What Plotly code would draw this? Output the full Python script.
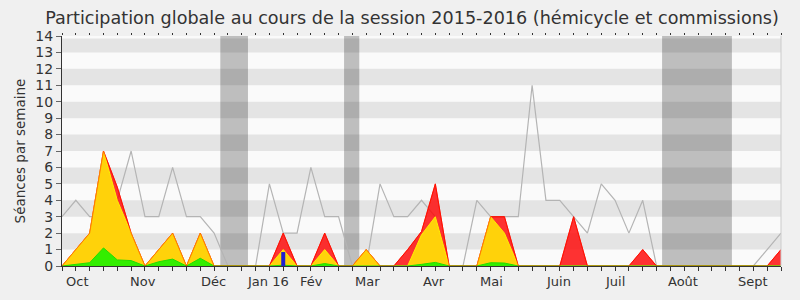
import plotly.graph_objects as go

# ---------------- data ----------------
weeks = list(range(53))

# gray line: séances (hémicycle) per week
gray = [3, 4, 3, 3, 4, 7, 3, 3, 6, 3, 3, 2, 0, 0, 0, 5, 2, 2, 6, 3, 3, 0, 0, 5, 3, 3,
        4, 3, 0, 0, 4, 3, 3, 3, 11, 4, 4, 3, 2, 5, 4, 2, 4, 0, 0, 0, 0, 0, 0, 0, 0, 1, 2]
# red area (top layer)
red = [0, 1, 2, 7, 4.8, 2, 0, 1, 2, 0, 2, 0, 0, 0, 0, 0, 2, 0, 0, 2, 0, 0, 1, 0, 0, 1,
       2.1, 5, 0, 0, 0, 3, 3, 0, 0, 0, 0, 3, 0, 0, 0, 0, 1, 0, 0, 0, 0, 0, 0, 0, 0, 0, 1]
# yellow area
yellow = [0, 1, 2, 7, 4, 2, 0, 1, 2, 0, 2, 0, 0, 0, 0, 0, 1, 0, 0, 1, 0, 0, 1, 0, 0, 0,
          1.9, 3, 0, 0, 0, 3, 2, 0, 0, 0, 0, 0, 0, 0, 0, 0, 0, 0, 0, 0, 0, 0, 0, 0, 0, 0, 0]
# green area
green = [0, 0.08, 0.2, 1.1, 0.37, 0.33, 0, 0.26, 0.42, 0, 0.47, 0, 0, 0, 0, 0, 0.05, 0, 0,
         0.15, 0, 0, 0.03, 0, 0, 0, 0.1, 0.22, 0, 0, 0, 0.2, 0.18, 0, 0, 0, 0, 0, 0, 0, 0,
         0, 0, 0, 0, 0, 0, 0, 0, 0, 0, 0, 0]
# blue bar
blue = [0] * 53
blue[16] = 0.85

month_labels = ["Oct", "Nov", "Déc", "Jan 16", "Fév", "Mar", "Avr", "Mai", "Juin",
                "Juil", "Août", "Sept"]
month_pos = [1.06, 5.88, 10.94, 14.9, 18.08, 22.1, 26.9, 31.07, 35.9, 39.96, 44.9, 49.95]

vacations = [(11.45, 13.45), (20.4, 21.5), (43.4, 48.45)]

title = "Participation globale au cours de la session 2015-2016 (hémicycle et commissions)"
ytitle = "Séances par semaine"

FONT = "DejaVu Sans"

fig = go.Figure()

fig.add_trace(go.Scatter(x=weeks, y=gray, mode="lines",
                         line=dict(color="#b4b4b4", width=1.2), hoverinfo="skip"))
fig.add_trace(go.Scatter(x=weeks, y=red, mode="lines", fill="tozeroy",
                         fillcolor="rgba(255,0,0,0.8)",
                         line=dict(color="#ff0000", width=1), hoverinfo="skip"))
fig.add_trace(go.Scatter(x=weeks, y=yellow, mode="lines", fill="tozeroy",
                         fillcolor="#ffd20a",
                         line=dict(color="#ffee00", width=1), hoverinfo="skip"))
fig.add_trace(go.Scatter(x=weeks, y=green, mode="lines", fill="tozeroy",
                         fillcolor="#33ee00",
                         line=dict(color="#22dd00", width=1), hoverinfo="skip"))
fig.add_trace(go.Scatter(x=weeks, y=red, mode="lines",
                         line=dict(color="rgba(255,30,0,0.55)", width=1), hoverinfo="skip"))

# blue bars as thick vertical segments
bx, by = [], []
for w, v in zip(weeks, blue):
    if v > 0:
        bx += [w, w, None]
        by += [0, v, None]
fig.add_trace(go.Scatter(x=bx, y=by, mode="lines",
                         line=dict(color="#2020d0", width=4), hoverinfo="skip"))

# invisible trace for top tick axis
fig.add_trace(go.Scatter(x=[0, 52], y=[0, 0], xaxis="x2", mode="markers",
                         marker=dict(opacity=0), hoverinfo="skip", showlegend=False))

shapes = []
for a, b in vacations:
    shapes.append(dict(type="rect", xref="x", yref="paper", x0=a, x1=b, y0=0, y1=1,
                       fillcolor="#bebebe", line=dict(width=0), layer="below"))
for k in range(1, 14, 2):
    top = k + 1 if k < 13 else 13.85
    shapes.append(dict(type="rect", xref="paper", yref="y", x0=0, x1=1, y0=k, y1=top,
                       fillcolor="rgba(0,0,0,0.085)", line=dict(width=0), layer="below"))
shapes.append(dict(type="line", xref="paper", yref="paper", x0=1, x1=1, y0=0, y1=1,
                   line=dict(color="#cccccc", width=1)))

annotations = []
for lab, p in zip(month_labels, month_pos):
    annotations.append(dict(x=p, y=0, xref="x", yref="paper", text=lab, showarrow=False,
                            yshift=-15, yanchor="middle", xanchor="center",
                            font=dict(family=FONT, size=13, color="#333333")))

fig.update_layout(
    width=800, height=300,
    margin=dict(l=62, r=19, t=36, b=34),
    paper_bgcolor="#f0f0f0",
    plot_bgcolor="#fafafa",
    showlegend=False,
    title=dict(text=title, x=0.515, xanchor="center", y=0.94, yanchor="middle",
               font=dict(family=FONT, size=17.6, color="#333333")),
    font=dict(family=FONT, color="#333333"),
    shapes=shapes,
    annotations=annotations,
    xaxis=dict(range=[0, 52], tickvals=weeks, ticktext=[""] * len(weeks),
               ticks="outside", ticklen=4, tickcolor="#333333", showgrid=False,
               zeroline=False, showline=True, linecolor="#333333", linewidth=1),
    xaxis2=dict(range=[0, 52], overlaying="x", side="top", tickvals=weeks,
                ticktext=[""] * len(weeks), ticks="outside", ticklen=2,
                tickcolor="#333333", showgrid=False, zeroline=False, showline=False),
    yaxis=dict(range=[0, 14], tickvals=list(range(15)), ticks="outside", ticklen=5,
               tickcolor="#666666", showgrid=False, zeroline=False, showline=True,
               linecolor="#333333", linewidth=1,
               tickfont=dict(family=FONT, size=14, color="#333333"),
               title=dict(text=ytitle, font=dict(family=FONT, size=13.5, color="#333333"),
                          standoff=6)),
)

fig.write_html("out.html")
